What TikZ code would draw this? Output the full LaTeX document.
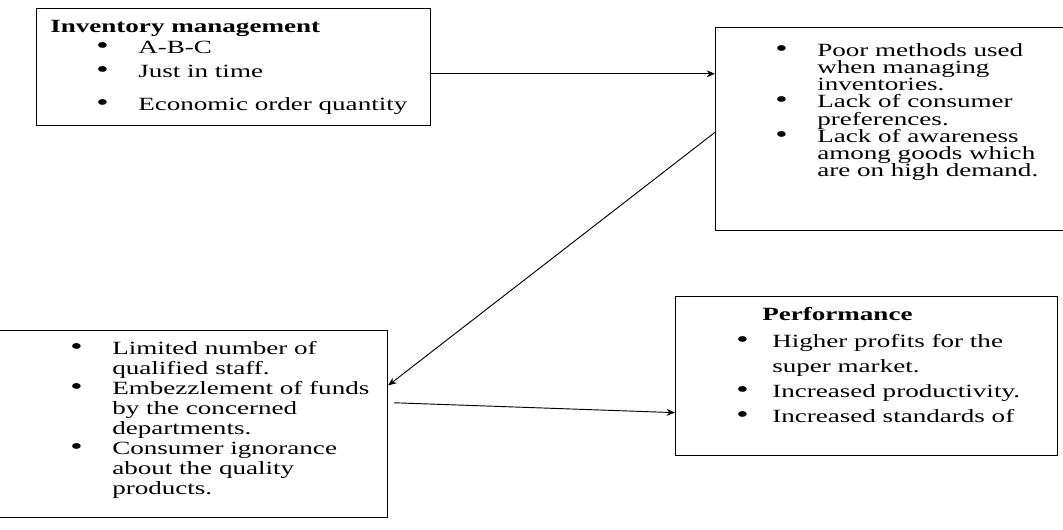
\documentclass[tikz,border=0pt]{standalone}
\usepackage{fontspec}
\setmainfont[FakeStretch=1.45]{Liberation Serif}
\usetikzlibrary{positioning,arrows.meta}

\tikzset{
  box/.style={draw,line width=0.9pt,inner sep=0pt,anchor=north west},
  txt/.style={inner sep=0pt,align=left,anchor=north west},
}
\newcommand{\bul}[1][31.5pt]{\makebox[#1][l]{\scalebox{1.3}{\textbullet}}}
\newcommand{\ind}[1][31.5pt]{\hspace*{#1}}
\newcommand{\tightlines}{\lineskiplimit=-20pt\relax}

\begin{document}
\begin{tikzpicture}[x=0.75pt,y=-0.75pt,>={Stealth[length=2.2mm,width=1.8mm]},
  font=\fontsize{14}{12.9}\selectfont\tightlines]
\useasboundingbox (0,0) rectangle (1063,529);
% the four boxes
\node[box,minimum width=295.5pt,minimum height=87.75pt] (inv) at (36,8) {};
\node[box,minimum width=270pt,minimum height=152.25pt] (prob) at (715,27) {};
\node[box,minimum width=294pt,minimum height=140.25pt] (lim) at (-5,330) {};
\node[box,minimum width=286.5pt,minimum height=119.25pt] (perf) at (675,296) {};
% texts
\node[txt,anchor=base west] (inv-head) at (50,32) {\textbf{Inventory management}};
\node[txt] (inv-list) at (96,40.5) {\bul A-B-C\\[5.1pt] \bul Just in time\\[11.8pt] \bul Economic order quantity};
\node[txt] (prob-list) at (775,43) {\bul Poor methods used\\ \ind when managing\\ \ind inventories.\\
  \bul Lack of consumer\\ \ind preferences.\\ \bul Lack of awareness\\ \ind among goods which\\ \ind are on high demand.};
\node[txt,font=\fontsize{14}{15}\selectfont\tightlines] (lim-list) at (70,341) {\bul Limited number of\\ \ind qualified staff.\\
  \bul Embezzlement of funds\\ \ind by the concerned\\ \ind departments.\\ \bul Consumer ignorance\\ \ind about the quality\\ \ind products.};
\node[txt,anchor=base west] (perf-head) at (762,320) {\textbf{Performance}};
\node[txt,font=\fontsize{14}{18.75}\selectfont] (perf-list) at (736,334) {\bul[27pt]Higher profits for the\\ \ind[27pt]super market.\\
  \bul[27pt]Increased productivity.\\ \bul[27pt]Increased standards of};
% connectors
\coordinate (a1) at ([yshift=-5pt]inv.east);
\draw[->,line width=0.7pt] (a1) -- (a1 -| prob.west);
\draw[->,line width=0.7pt] ([yshift=-2.4pt]prob.west) -- ([yshift=29pt]lim.east);
\coordinate (a3) at ([shift={(4.5pt,16pt)}]lim.east);
\draw[->,line width=0.7pt] (a3) -- ([yshift=-27.4pt]perf.west);
\end{tikzpicture}
\end{document}
